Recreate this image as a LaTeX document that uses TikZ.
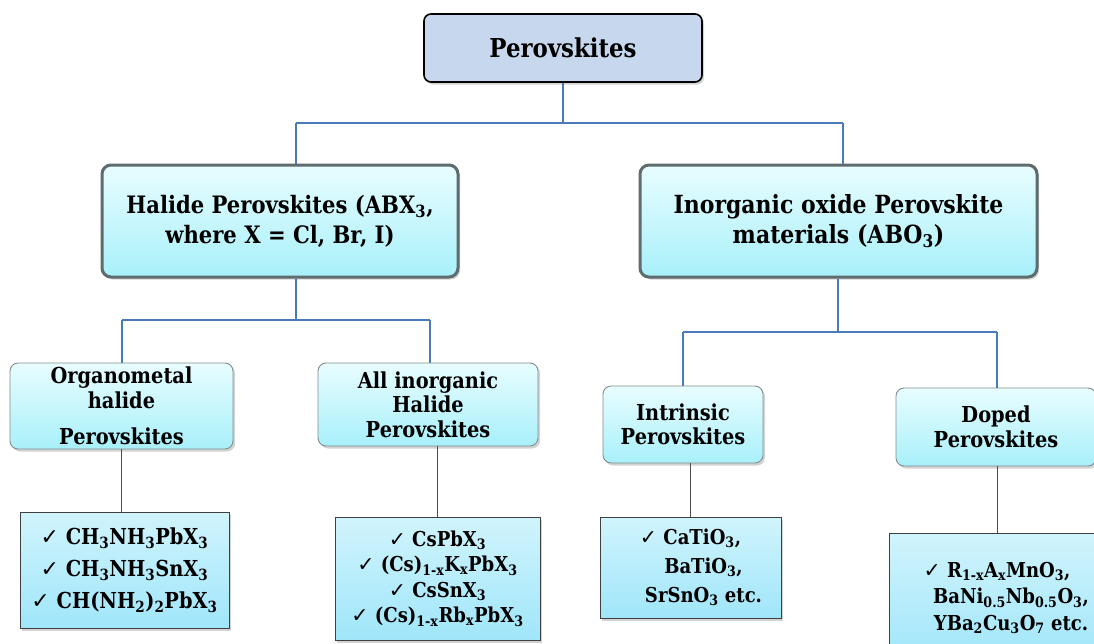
\documentclass[tikz,border=0pt]{standalone}
\usepackage{fontspec}
\setmainfont{DejaVu Serif}[FakeStretch=0.88]
\newfontfamily\symf{DejaVu Sans}
\usetikzlibrary{shadows}
\definecolor{topfill}{RGB}{199,216,238}
\definecolor{cyantop}{RGB}{232,253,255}
\definecolor{cyanbot}{RGB}{168,240,250}
\definecolor{leaftop}{RGB}{208,244,252}
\definecolor{leafbot}{RGB}{160,230,250}
\definecolor{conblue}{RGB}{74,122,184}
\definecolor{midborder}{RGB}{95,108,110}
\definecolor{subborder}{RGB}{130,140,140}
\newcommand\ck{{\symf\mdseries ✓}}
\newcommand\sbx[1]{\textsubscript{#1}}
\tikzset{
  shad/.style={drop shadow={opacity=0.35,shadow xshift=2pt,shadow yshift=-2.5pt}},
  topbox/.style={shad,rounded corners=7pt,fill=topfill,draw=black,line width=1.6pt,
    align=center,inner sep=0pt,font=\fontsize{26}{31}\selectfont\bfseries},
  midbox/.style={shad,rounded corners=9pt,top color=cyantop,bottom color=cyanbot,draw=midborder,line width=3pt,
    align=center,inner sep=0pt,font=\fontsize{25}{30}\selectfont\bfseries},
  subbox/.style={shad,rounded corners=8pt,top color=cyantop,bottom color=cyanbot,draw=subborder,line width=0.9pt,
    align=center,inner sep=0pt,font=\fontsize{22}{24.5}\selectfont\bfseries},
  leafbox/.style={shad,top color=leaftop,bottom color=leafbot,draw=black!75,line width=0.8pt,
    align=center,inner sep=0pt,font=\fontsize{19}{28}\selectfont\bfseries},
  blueline/.style={draw=conblue,line width=2pt},
  greyline/.style={draw=black!70,line width=1pt},
}
\begin{document}
\begin{tikzpicture}[x=1pt,y=-1pt]
\useasboundingbox (0,0) rectangle (1094,643);
\clip (0,0) rectangle (1094,643);
% nodes
\node[topbox,minimum width=278,minimum height=68] (top) at (563,48) {Perovskites};
\node[midbox,minimum width=356,minimum height=112,font=\fontsize{24}{30}\selectfont\bfseries] (hal) at (280,221)
  {Halide Perovskites (ABX\sbx{3},\\where X = Cl, Br, I)};
\node[midbox,minimum width=397,minimum height=112] (ino) at (838.5,221)
  {Inorganic oxide Perovskite\\materials (ABO\sbx{3})};
\node[subbox,minimum width=223,minimum height=86] (org) at (121.5,406)
  {Organometal\\halide\\[12pt]Perovskites};
\node[subbox,minimum width=220,minimum height=83] (all) at (428,404.5)
  {All inorganic\\Halide\\Perovskites};
\node[subbox,minimum width=160,minimum height=77] (int) at (683,424.5)
  {Intrinsic\\Perovskites};
\node[subbox,minimum width=200,minimum height=78] (dop) at (996,427)
  {Doped\\Perovskites};
\node[leafbox,minimum width=209,minimum height=116,font=\fontsize{22}{32}\selectfont\bfseries] (l1) at (124.5,570)
  {\ck\ CH\sbx{3}NH\sbx{3}PbX\sbx{3}\\\ck\ CH\sbx{3}NH\sbx{3}SnX\sbx{3}\\\ck\ CH(NH\sbx{2})\sbx{2}PbX\sbx{3}};
\node[leafbox,minimum width=205,minimum height=123,font=\fontsize{20.5}{25.5}\selectfont\bfseries] (l2) at (437.5,578.5)
  {\ck\ CsPbX\sbx{3}\\\ck\ (Cs)\sbx{1-x}K\sbx{x}PbX\sbx{3}\\\ck\ CsSnX\sbx{3}\\\ck\ (Cs)\sbx{1-x}Rb\sbx{x}PbX\sbx{3}};
\node[leafbox,minimum width=181,minimum height=101,font=\fontsize{20.5}{29}\selectfont\bfseries] (l3) at (690.5,567.5)
  {\ck\ CaTiO\sbx{3},\\\hspace*{26pt}BaTiO\sbx{3},\\\hspace*{26pt}SrSnO\sbx{3} etc.};
\node[leafbox,minimum width=216,minimum height=130,font=\fontsize{20.5}{26.5}\selectfont\bfseries] (l4) at (997,598)
  {\ck\ R\sbx{1-x}A\sbx{x}MnO\sbx{3},\\\hspace*{28pt}BaNi\sbx{0.5}Nb\sbx{0.5}O\sbx{3},\\\hspace*{28pt}YBa\sbx{2}Cu\sbx{3}O\sbx{7} etc.};
% junctions
\coordinate (a1) at (296,123);
\coordinate (a2) at (843,123);
\coordinate (b1) at (122,320);
\coordinate (b2) at (430,320);
\coordinate (c0) at (838,332);
\coordinate (c1) at (683,332);
\coordinate (c2) at (997,332);
\coordinate (x1) at (121,0);
\coordinate (x2) at (437,0);
\coordinate (x3) at (690,0);
\coordinate (x4) at (997,0);
% connectors
\draw[blueline] (top.south) -- (top.south |- a1);
\draw[blueline] (a1) -- (a2);
\draw[blueline] (a1) -- (a1 |- hal.north);
\draw[blueline] (a2) -- (a2 |- ino.north);
\draw[blueline] (a1 |- hal.south) -- (a1 |- b1);
\draw[blueline] (b1) -- (b2);
\draw[blueline] (b1) -- (b1 |- org.north);
\draw[blueline] (b2) -- (b2 |- all.north);
\draw[blueline] (c0 |- ino.south) -- (c0);
\draw[blueline] (c1) -- (c2);
\draw[blueline] (c1) -- (c1 |- int.north);
\draw[blueline] (c2) -- (c2 |- dop.north);
\draw[greyline] (x1 |- org.south) -- (x1 |- l1.north);
\draw[greyline] (x2 |- all.south) -- (x2 |- l2.north);
\draw[greyline] (x3 |- int.south) -- (x3 |- l3.north);
\draw[greyline] (x4 |- dop.south) -- (x4 |- l4.north);
\end{tikzpicture}
\end{document}
